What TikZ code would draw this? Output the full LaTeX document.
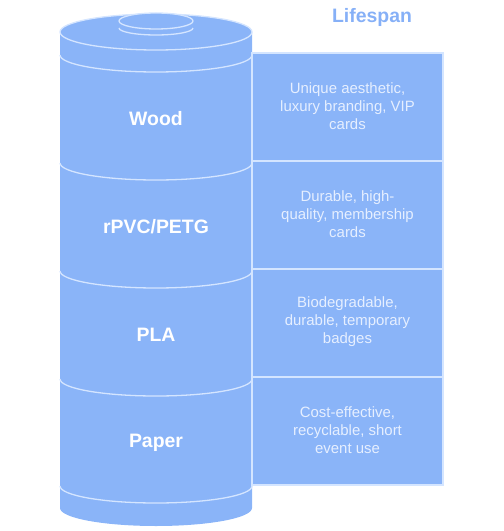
\documentclass[tikz,border=0pt]{standalone}
\usepackage{fontspec}
\setmainfont{Liberation Sans}
\definecolor{cylfill}{HTML}{8AB4F8}
\definecolor{rimline}{HTML}{D4E5FF}
\definecolor{boxtext}{HTML}{E6EFFF}
\definecolor{titleblue}{HTML}{86B0F7}
\begin{document}
\begin{tikzpicture}[x=1bp,y=-1bp,
  rim/.style={draw=rimline,line width=1.3bp},
  seglabel/.style={text=white,font=\fontsize{19.5}{23}\selectfont\bfseries},
  infobox/.style={fill=cylfill,draw=rimline,line width=1.3bp},
  infotext/.style={text=boxtext,align=center,font=\fontsize{15}{18}\selectfont}]
\useasboundingbox (0,0) rectangle (504,531);
% big cylinder body
\fill[cylfill] (60,32) -- (60,508) arc[start angle=180,end angle=0,x radius=96,y radius=18] -- (252,32) -- cycle;
% top face
\filldraw[cylfill,rim] (156,32) ellipse[x radius=96,y radius=18];
% segment lines
\foreach \yy in {55,163,271,379,486}
  \draw[rim] (60,\yy) arc[start angle=180,end angle=0,x radius=96,y radius=17];
% small cylinder
\fill[cylfill] (119,21) -- (119,28) arc[start angle=180,end angle=0,x radius=37,y radius=7] -- (193,21) -- cycle;
\draw[rim] (119,28) arc[start angle=180,end angle=0,x radius=37,y radius=7];
\filldraw[cylfill,rim] (156,21) ellipse[x radius=37,y radius=8];
% labels
\node[seglabel] (wood) at (156,119) {Wood};
\node[seglabel] (rpvc) at (156,227) {rPVC/PETG};
\node[seglabel] (pla) at (156,335) {PLA};
\node[seglabel] (paper) at (156,443) {Paper};
% right boxes
\draw[infobox] (252,53) rectangle (443,161);
\draw[infobox] (252,161) rectangle (443,269);
\draw[infobox] (252,269) rectangle (443,377);
\draw[infobox] (252,377) rectangle (443,485);
\node[infotext] (woodtxt) at (347.5,106) {Unique aesthetic,\\luxury branding, VIP\\cards};
\node[infotext] (rpvctxt) at (347.5,214) {Durable, high-\\quality, membership\\cards};
\node[infotext] (platxt) at (347.5,322) {Biodegradable,\\durable, temporary\\badges};
\node[infotext] (papertxt) at (347.5,430) {Cost-effective,\\recyclable, short\\event use};
% title
\node[text=titleblue,font=\fontsize{19.5}{23}\selectfont\bfseries] (title) at (372,17) {Lifespan};
\end{tikzpicture}
\end{document}
